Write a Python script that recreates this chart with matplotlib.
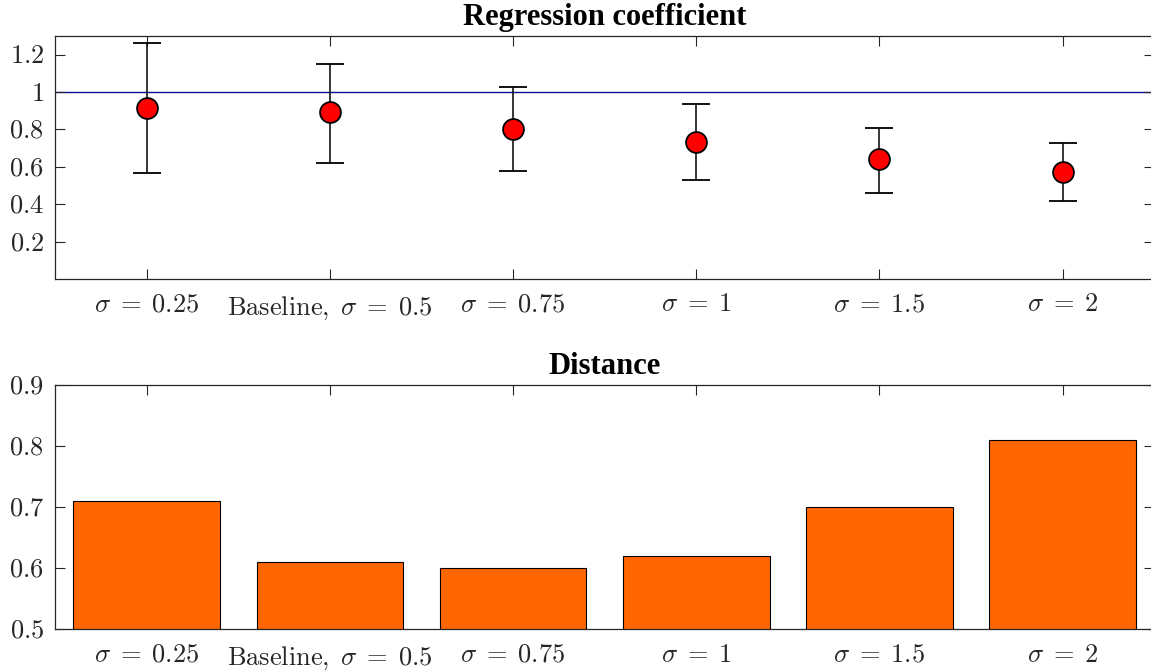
import matplotlib
matplotlib.use("Agg")
from matplotlib import pyplot as plt

# data
labels = [r"$\sigma\;=\;0.25$", r"$\mathrm{Baseline,}\;\sigma\;=\;0.5$", r"$\sigma\;=\;0.75$",
          r"$\sigma\;=\;1$", r"$\sigma\;=\;1.5$", r"$\sigma\;=\;2$"]
coef = [0.915, 0.895, 0.805, 0.735, 0.643, 0.574]
coef_hi = [1.262, 1.152, 1.029, 0.938, 0.809, 0.729]
coef_lo = [0.569, 0.620, 0.580, 0.532, 0.462, 0.420]
distance = [0.71, 0.61, 0.60, 0.62, 0.70, 0.81]
coef_yticks = [0.2, 0.4, 0.6, 0.8, 1.0, 1.2]
dist_yticks = [0.5, 0.6, 0.7, 0.8, 0.9]

plt.rcParams["mathtext.fontset"] = "cm"
plt.rcParams["font.family"] = ["Liberation Serif", "DejaVu Serif"]

AX_COLOR = "#262626"
TICK_SIZE = 19


def style_axes(ax, yticks):
    x = list(range(1, len(labels) + 1))
    ax.set_xlim(0.5, len(labels) + 0.5)
    ax.set_xticks(x)
    ax.set_xticklabels(labels, fontsize=TICK_SIZE)
    ax.set_yticks(yticks)
    ax.set_yticklabels([f"${t:g}$" for t in yticks], fontsize=TICK_SIZE)
    ax.tick_params(direction="in", top=True, right=True, length=7, width=0.8,
                   colors=AX_COLOR, labelcolor="#262626")
    ax.tick_params(axis="x", pad=11)
    ax.tick_params(axis="y", pad=8)
    for s in ax.spines.values():
        s.set_color(AX_COLOR)
        s.set_linewidth(0.9)


fig = plt.figure(figsize=(11.51, 6.72), dpi=100)
ax1 = fig.add_axes([0.0478, 0.5848, 0.955, 0.3616])
ax2 = fig.add_axes([0.0478, 0.0635, 0.955, 0.3631])

x = list(range(1, len(labels) + 1))
yerr = [[c - lo for c, lo in zip(coef, coef_lo)], [hi - c for c, hi in zip(coef, coef_hi)]]
ax1.axhline(1.0, color="#0c0c96", linewidth=1.0, zorder=1)
ax1.errorbar(x, coef, yerr=yerr, fmt="o", color="black", ecolor="black",
             elinewidth=1.1, capsize=10, capthick=1.1, markersize=15,
             markerfacecolor="#ff0000", markeredgecolor="black", markeredgewidth=1.3,
             zorder=3)
ax1.set_ylim(0, 1.3)
style_axes(ax1, coef_yticks)
ax1.set_title("Regression coefficient", fontsize=22, fontweight="bold", pad=8)

ax2.bar(x, distance, width=0.8, color="#ff6600", edgecolor="black", linewidth=0.8, zorder=2)
ax2.set_ylim(0.5, 0.9)
style_axes(ax2, dist_yticks)
ax2.set_title("Distance", fontsize=22, fontweight="bold", pad=8)

fig.savefig("out.png", dpi=100)
